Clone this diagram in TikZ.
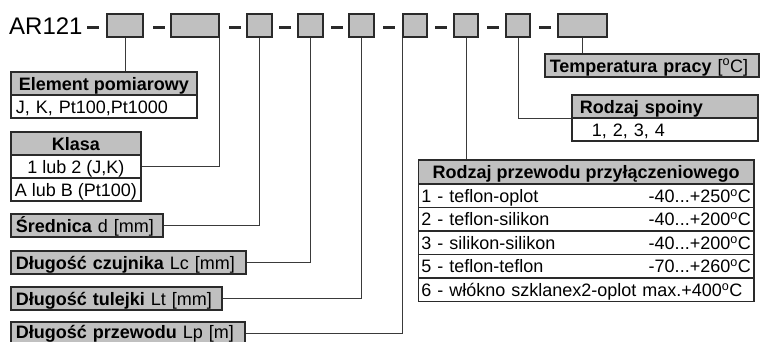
\documentclass[tikz,border=0pt]{standalone}
\usepackage{fontspec}
\setmainfont{Liberation Sans}
\usetikzlibrary{positioning}
\definecolor{kodfill}{HTML}{C0C0C0}
\definecolor{ramkaC}{HTML}{2A2A2A}
\definecolor{liniaC}{HTML}{3A3A3A}
\newcommand\opis{\fontsize{18}{20}\selectfont}
\newcommand\stC{\textsuperscript{o}C}
\tikzset{
    kod/.style={draw=ramkaC, fill=kodfill, line width=1.6pt, minimum width=#1, minimum height=23pt, inner sep=0pt},
    pole/.style={draw=ramkaC, line width=1.6pt, anchor=north west, font=\opis, inner ysep=0pt,
        minimum height=23pt, text height=15.5pt, text depth=2pt},
    srodek/.style={pole, inner xsep=1pt, minimum width=#1},
    lewo/.style={pole, inner xsep=5pt, text width=#1, align=left},
    szary/.style={fill=kodfill},
    pogr/.style={font=\opis\bfseries},
    wiersz/.style={lewo=#1, inner xsep=3pt, minimum height=23.5pt},
    linia/.style={draw=liniaC, line width=0.9pt}
}

\begin{document}
\begin{tikzpicture}[x=1pt, y=-1pt]
    \useasboundingbox (0,0) rectangle (760,342);
    \node[anchor=west, font=\fontsize{24}{24}\selectfont, inner sep=0pt] (typ) at (9,26) {AR121};
    \node[kod=36pt] (k1) at (125,25.5) {};
    \node[kod=48pt] (k2) at (195,25.5) {};
    \node[kod=25pt] (k3) at (259.5,25.5) {};
    \node[kod=25pt] (k4) at (310.5,25.5) {};
    \node[kod=25pt] (k5) at (361.5,25.5) {};
    \node[kod=24pt] (k6) at (415,25.5) {};
    \node[kod=24pt] (k7) at (466,25.5) {};
    \node[kod=24pt] (k8) at (518,25.5) {};
    \node[kod=49pt] (k9) at (582.5,25.5) {};
    \foreach \x in {93,158.5,234.5,285,337,389,440.5,492.5,544.5}
        \fill[ramkaC] ({\x-6},26) rectangle ({\x+6},29.5);

    \node[srodek=186pt, szary, pogr] (elem) at (10,71) {Element pomiarowy};
    \node[lewo=176pt] (elemw) at (10,94) {J, K, Pt100,Pt1000};
    \node[srodek=130pt, szary, pogr] (klasa) at (10,131) {Klasa};
    \node[srodek=130pt] (klasa1) at (10,154) {1 lub 2 (J,K)};
    \node[srodek=130pt] (klasa2) at (10,177) {A lub B (Pt100)};
    \node[lewo=142pt, szary] (sred) at (10,213) {\textbf{Średnica} d [mm]};
    \node[lewo=225pt, szary] (czuj) at (10,250) {\textbf{Długość czujnika} Lc [mm]};
    \node[lewo=201pt, szary] (tul) at (10,286) {\textbf{Długość tulejki} Lt [mm]};
    \node[lewo=224pt, szary, text height=13pt, text depth=2pt] (przew) at (10,321) {\textbf{Długość przewodu} Lp [m]};

    \node[lewo=204pt, szary] (temp) at (544,53) {\textbf{Temperatura pracy} [\stC]};
    \node[lewo=176pt, szary, pogr] (spoh) at (571,94) {\hspace*{3pt}Rodzaj spoiny};
    \node[lewo=176pt] (spow) at (571,117) {\hspace*{15pt}1, 2, 3, 4};

    \node[srodek=335.5pt, szary, pogr, minimum height=24pt] (przewh) at (417.5,159) {Rodzaj przewodu przyłączeniowego};
    \node[wiersz=329.5pt] (w1) at (417.5,183) {1 - teflon-oplot\hfill -40...+250\stC};
    \node[wiersz=329.5pt] (w2) at (417.5,206.5) {2 - teflon-silikon\hfill -40...+200\stC};
    \node[wiersz=329.5pt] (w3) at (417.5,230) {3 - silikon-silikon\hfill -40...+200\stC};
    \node[wiersz=329.5pt] (w5) at (417.5,253.5) {5 - teflon-teflon\hfill -70...+260\stC};
    \node[wiersz=329.5pt] (w6) at (417.5,277) {6 - włókno szklanex2-oplot max.+400\stC};

    \draw[linia] (k1.south) -- (k1.south |- elem.north);
    \draw[linia] (k2.south east) |- (klasa1.east);
    \draw[linia] (k3.south) |- (sred.east);
    \draw[linia] (k4.south) |- (czuj.east);
    \draw[linia] (k5.south) |- (tul.east);
    \draw[linia] (k6.south west) |- (przew.east);
    \draw[linia] (k7.south) -- (k7.south |- przewh.north);
    \draw[linia] (k8.south) |- (spoh.south west);
    \draw[linia] (k9.south) -- (k9.south |- temp.north);
\end{tikzpicture}
\end{document}
